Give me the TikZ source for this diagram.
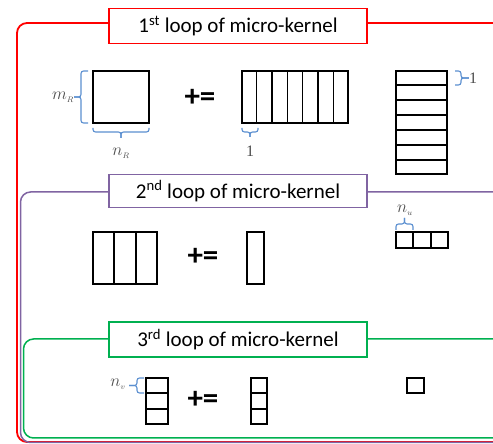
\documentclass[tikz,border=0pt]{standalone}
\usepackage{fontspec}
\setmainfont{Carlito}
\newfontfamily\tnr{Liberation Serif}
\usetikzlibrary{calc}
\definecolor{loopred}{HTML}{FF0000}
\definecolor{looppurple}{HTML}{8064A2}
\definecolor{loopgreen}{HTML}{00B050}
\definecolor{braceblue}{HTML}{5B8FD0}
\tikzset{
  frame/.style={line width=1.8pt, rounded corners=10pt},
  titlebox/.style={draw, fill=white, line width=1.6pt, minimum width=258pt, minimum height=35pt, inner sep=0pt, font=\fontsize{21}{24}\selectfont},
  mat/.style={draw=black, line width=1.8pt, inner sep=0pt},
  cell/.style={black, line width=1.5pt},
  pluseq/.style={font=\fontsize{31}{34}\selectfont\bfseries, inner sep=0pt},
  brc/.style={draw=braceblue, line width=1.1pt, rounded corners=2.5pt},
  lbl/.style={font=\tnr\fontsize{16}{18}\selectfont, inner sep=0pt, text=black!70},
}
\begin{document}
\begin{tikzpicture}[x=1pt,y=1pt]
\useasboundingbox (0,0) rectangle (493,444);
% frames
\draw[frame, loopred] (520,421) -- (17,421) -- (17,2) -- (520,2);
\draw[frame, looppurple, line width=1.5pt] (520,252) -- (20.5,252) -- (20.5,1.5) -- (520,1.5);
\draw[frame, loopgreen, line width=1.5pt] (520,105) -- (23.5,105) -- (23.5,6) -- (520,6);
% titles
\node[titlebox, draw=loopred] (t1) at (238,418) {1\textsuperscript{st} loop of micro-kernel};
\node[titlebox, draw=looppurple, minimum height=33pt] (t2) at (238,253) {2\textsuperscript{nd} loop of micro-kernel};
\node[titlebox, draw=loopgreen] (t3) at (238,104.5) {3\textsuperscript{rd} loop of micro-kernel};

% ---- 1st loop
\node[mat, minimum width=56pt, minimum height=52pt] (C1) at (121,347) {};
\node[pluseq] (pe1) at (200,346) {+=};
\node[mat, minimum width=106pt, minimum height=52pt] (A1) at (295,347) {};
\foreach \i in {1,...,6}
  \draw[cell] ($(A1.north west)!\i/7!(A1.north east)$) -- ($(A1.south west)!\i/7!(A1.south east)$);
\node[mat, minimum width=51pt, minimum height=103pt] (B1) at (421.5,321.5) {};
\foreach \i in {1,...,6}
  \draw[cell] ($(B1.north west)!\i/7!(B1.south west)$) -- ($(B1.north east)!\i/7!(B1.south east)$);
% braces
\node[lbl] (mR) at (63,347) {$m_{\scriptscriptstyle R}$};
\draw[brc] (88,373) -- (81,373) -- (81,347) -- (mR.east);
\draw[brc] (mR.east) -- (81,347) -- (81,321) -- (88,321);
\node[lbl] (nR) at (121,291) {$n_{\scriptscriptstyle R}$};
\draw[brc] (93,316) -- (93,312) -- (121,312) -- (121,306);
\draw[brc] (121,306) -- (121,312) -- (149,312) -- (149,316);
\node[lbl] (one1) at (250,293) {1};
\draw[brc] (242,316) -- (242,312) -- (250,312) -- (250,307);
\draw[brc] (250,307) -- (250,312) -- (258,312) -- (258,316);
\node[lbl] (one2) at (473,366) {1};
\draw[brc] (455,373) -- (461,373) -- (461,366) -- (one2.west);
\draw[brc] (one2.west) -- (461,366) -- (461,359) -- (455,359);

% ---- 2nd loop
\node[mat, minimum width=64pt, minimum height=52pt] (C2) at (125,186) {};
\foreach \i in {1,2}
  \draw[cell] ($(C2.north west)!\i/3!(C2.north east)$) -- ($(C2.south west)!\i/3!(C2.south east)$);
\node[pluseq] (pe2) at (203,187) {+=};
\node[mat, minimum width=17pt, minimum height=52pt] (A2) at (255.5,186) {};
\node[mat, minimum width=52pt, minimum height=16pt] (B2) at (422,204) {};
\foreach \i in {1,2}
  \draw[cell] ($(B2.north west)!\i/3!(B2.north east)$) -- ($(B2.south west)!\i/3!(B2.south east)$);
\node[lbl] (nu) at (405,234) {$n_{\scriptscriptstyle u}$};
\draw[brc] (396,214) -- (396,220) -- (404.5,220) -- (404.5,226);
\draw[brc] (404.5,226) -- (404.5,220) -- (413,220) -- (413,214);

% ---- 3rd loop
\node[mat, minimum width=22pt, minimum height=46pt] (C3) at (157,43) {};
\foreach \i in {1,2}
  \draw[cell] ($(C3.north west)!\i/3!(C3.south west)$) -- ($(C3.north east)!\i/3!(C3.south east)$);
\node[pluseq] (pe3) at (203,44) {+=};
\node[mat, minimum width=16pt, minimum height=46pt] (A3) at (259,43) {};
\foreach \i in {1,2}
  \draw[cell] ($(A3.north west)!\i/3!(A3.south west)$) -- ($(A3.north east)!\i/3!(A3.south east)$);
\node[mat, minimum width=17pt, minimum height=15pt] (B3) at (415.5,58.5) {};
\node[lbl] (nv) at (118,60) {$n_{\scriptscriptstyle v}$};
\draw[brc] (144,66) -- (137,66) -- (137,58.5) -- (129,58.5);
\draw[brc] (129,58.5) -- (137,58.5) -- (137,51) -- (144,51);
\end{tikzpicture}
\end{document}
